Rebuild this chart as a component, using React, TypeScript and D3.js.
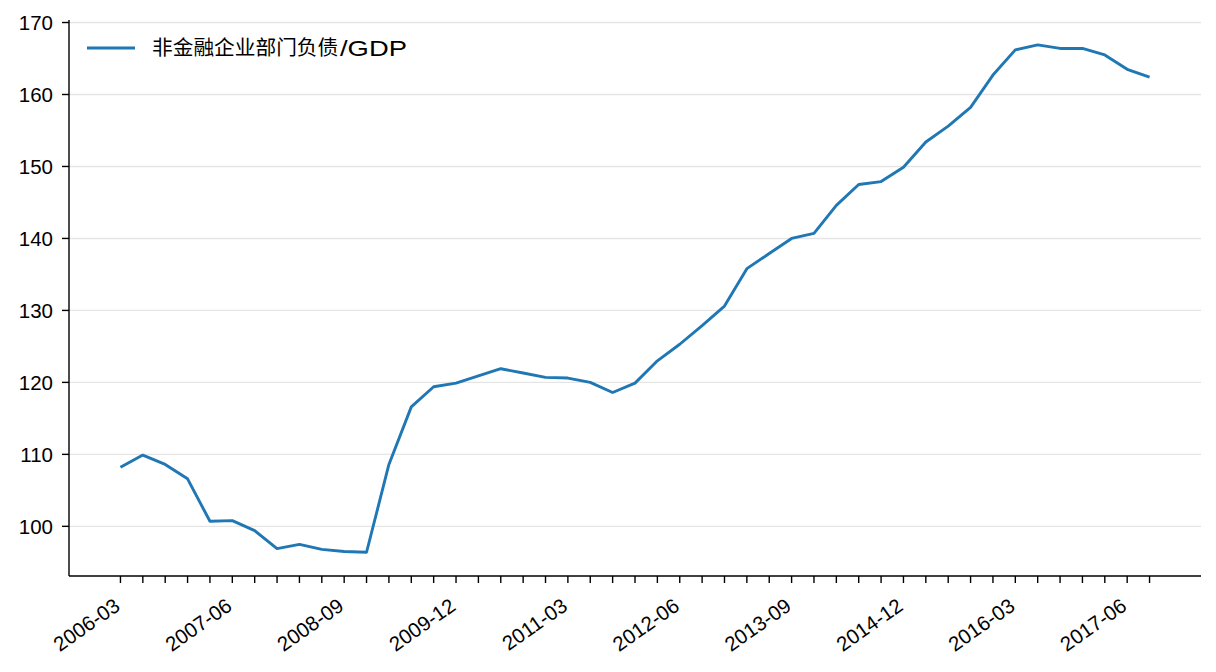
import React from 'react';
import * as d3 from 'd3';

// quarterly observations, 2006-03 .. 2017-09
const quarters = [
  '2006-03', '2006-06', '2006-09', '2006-12',
  '2007-03', '2007-06', '2007-09', '2007-12',
  '2008-03', '2008-06', '2008-09', '2008-12',
  '2009-03', '2009-06', '2009-09', '2009-12',
  '2010-03', '2010-06', '2010-09', '2010-12',
  '2011-03', '2011-06', '2011-09', '2011-12',
  '2012-03', '2012-06', '2012-09', '2012-12',
  '2013-03', '2013-06', '2013-09', '2013-12',
  '2014-03', '2014-06', '2014-09', '2014-12',
  '2015-03', '2015-06', '2015-09', '2015-12',
  '2016-03', '2016-06', '2016-09', '2016-12',
  '2017-03', '2017-06', '2017-09',
];

const debtToGdp = [
  108.2, 109.9, 108.6, 106.6,
  100.7, 100.8, 99.4, 96.9,
  97.5, 96.8, 96.5, 96.4,
  108.6, 116.6, 119.4, 119.9,
  120.9, 121.9, 121.3, 120.7,
  120.6, 120.0, 118.6, 119.9,
  123.0, 125.3, 127.9, 130.6,
  135.8, 137.9, 140.0, 140.7,
  144.6, 147.5, 147.9, 149.9,
  153.4, 155.6, 158.2, 162.7,
  166.2, 166.9, 166.4, 166.4,
  165.5, 163.5, 162.4,
];

const labelledQuarters = ['2006-03', '2007-06', '2008-09', '2009-12', '2011-03', '2012-06', '2013-09', '2014-12', '2016-03', '2017-06'];
const yTicks = [100, 110, 120, 130, 140, 150, 160, 170];
const seriesName = '非金融企业部门负债';
const seriesSuffix = '/GDP';

const W = 1216;
const H = 672;
const left = 69;
const right = 1201;
const top = 20;
const bottom = 576;
const font = '"Liberation Sans", Arial, "Noto Sans CJK SC", sans-serif';

export default function App() {
  const x = d3.scaleLinear().domain([-2.3, quarters.length - 1 + 2.3]).range([left, right]);
  const y = d3.scaleLinear().domain([93.1, 170.35]).range([bottom, top]);

  const line = d3.line<number>()
    .x((_, i) => x(i))
    .y(d => y(d));

  return (
    <svg width={W} height={H} style={{ position: 'absolute', left: 0, top: 0, background: '#fff' }} fontFamily={font}>
      {/* grid */}
      {yTicks.map(t => (
        <line key={'g' + t} x1={left} x2={right} y1={y(t)} y2={y(t)} stroke="#e5e5e5" strokeWidth={1.4} />
      ))}

      {/* series */}
      <path d={line(debtToGdp) || ''} fill="none" stroke="#1f77b4" strokeWidth={2.9} strokeLinejoin="round" />

      {/* spines */}
      <line x1={left} x2={left} y1={top} y2={bottom} stroke="#000" strokeWidth={1.4} />
      <line x1={left} x2={right} y1={bottom} y2={bottom} stroke="#000" strokeWidth={1.4} />

      {/* y axis */}
      {yTicks.map(t => (
        <g key={'y' + t} transform={`translate(${left},${y(t)})`}>
          <line x1={-7} x2={0} stroke="#000" strokeWidth={1.4} />
          <text x={-16} dy="0.35em" textAnchor="end" fontSize={20.5} fill="#000">{t}</text>
        </g>
      ))}

      {/* x axis */}
      {quarters.map((q, i) => (
        <g key={q} transform={`translate(${x(i)},${bottom})`}>
          <line y1={0} y2={7} stroke="#000" strokeWidth={1.4} />
          {labelledQuarters.includes(q) && (
            <text transform="translate(1,33) rotate(-35)" textAnchor="end" fontSize={20.5} fill="#000">{q}</text>
          )}
        </g>
      ))}

      {/* legend */}
      <line x1={87} x2={135} y1={48} y2={48} stroke="#1f77b4" strokeWidth={2.9} />
      <text x={152} y={48} dy="0.36em" fontSize={20.7} fontFamily='"Noto Sans CJK SC", sans-serif' fill="#000">{seriesName}</text>
      <text x={340} y={48} dy="0.36em" fontSize={22} textLength={67} lengthAdjust="spacingAndGlyphs" fill="#000">{seriesSuffix}</text>
    </svg>
  );
}
